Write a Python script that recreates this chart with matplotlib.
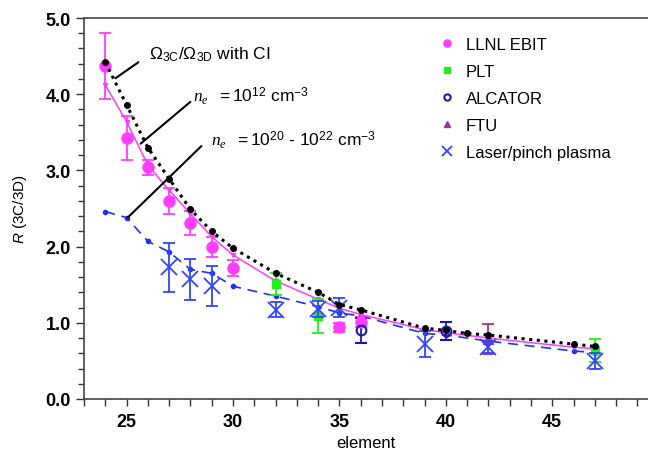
import matplotlib
matplotlib.use("Agg")
import matplotlib.pyplot as plt

plt.rcParams['font.family'] = ['Liberation Sans', 'DejaVu Sans']
plt.rcParams['mathtext.fontset'] = 'custom'
plt.rcParams['mathtext.rm'] = 'Liberation Sans'
plt.rcParams['mathtext.it'] = 'Liberation Serif:italic'
plt.rcParams['mathtext.sf'] = 'Liberation Sans:italic'

# model curves
ci_z = [24, 25, 26, 27, 28, 29, 30, 32, 34, 35, 36, 39, 40, 41, 42, 46, 47]
ci_r = [4.42, 3.86, 3.30, 2.89, 2.49, 2.20, 1.98, 1.65, 1.40, 1.24, 1.17, 0.93, 0.90, 0.86, 0.84, 0.72, 0.69]

lo_z = [24, 25, 26, 27, 28, 29, 30, 32, 34, 35, 36, 39, 40, 42, 46, 47]
lo_r = [4.12, 3.64, 3.07, 2.74, 2.43, 2.13, 1.89, 1.55, 1.31, 1.19, 1.11, 0.91, 0.87, 0.80, 0.68, 0.66]

hi_z = [24, 25, 26, 27, 28, 29, 30, 32, 34, 35, 36, 39, 40, 42, 46, 47]
hi_r = [2.46, 2.38, 2.07, 1.93, 1.70, 1.65, 1.48, 1.35, 1.21, 1.13, 1.09, 0.86, 0.84, 0.76, 0.63, 0.61]

# measurements
ebit_z = [24, 25, 26, 27, 28, 29, 30, 35, 36]
ebit_r = [4.37, 3.43, 3.04, 2.60, 2.31, 1.99, 1.72, 0.94, 1.01]
ebit_e = [0.43, 0.29, 0.10, 0.17, 0.16, 0.13, 0.10, 0.06, 0.07]

plt_z = [32, 34, 47]
plt_r = [1.51, 1.09, 0.64]
plt_e = [0.15, 0.22, 0.15]

alc_z = [36, 40]
alc_r = [0.90, 0.89]
alc_e = [0.16, 0.12]

ftu_z = [42]
ftu_r = [0.79]
ftu_e = [0.20]

las_z = [27, 28, 29, 32, 34, 35, 39, 42, 47]
las_r = [1.73, 1.57, 1.48, 1.17, 1.18, 1.20, 0.72, 0.68, 0.50]
las_e = [0.32, 0.27, 0.26, 0.10, 0.10, 0.12, 0.17, 0.08, 0.10]

MAG = '#ff3dff'
GRN = '#22ee22'
NAV = '#1c1ca0'
PUR = '#993399'
BLU = '#3344ff'

fig = plt.figure(figsize=(6.48, 4.6), dpi=100)
ax = fig.add_axes([84 / 648, 60 / 460, 564 / 648, 381 / 460])

ax.plot(hi_z, hi_r, color='#2233ee', ls=(0, (6, 4)), lw=1.2, marker='o', ms=3, zorder=2)
ax.plot(lo_z, lo_r, color=MAG, lw=1.1, marker='v', ms=3, zorder=2)
ax.plot(ci_z, ci_r, color='black', ls=(0, (1, 1.5)), lw=2.2, marker='o', ms=4, zorder=5)

ekw = dict(ls='none', capsize=4, elinewidth=1.3, capthick=1.3)
e1 = ax.errorbar(ebit_z, ebit_r, yerr=ebit_e, color=MAG, marker='o', ms=8, zorder=3, **ekw)
e2 = ax.errorbar(plt_z, plt_r, yerr=plt_e, color=GRN, marker='s', ms=6, zorder=3, **ekw)
e3 = ax.errorbar(alc_z, alc_r, yerr=alc_e, color=NAV, marker='o', ms=7, mfc='none', mew=1.5, zorder=3, **ekw)
e4 = ax.errorbar(ftu_z, ftu_r, yerr=ftu_e, color=PUR, marker='^', ms=7, zorder=3, **ekw)
e5 = ax.errorbar(las_z, las_r, yerr=las_e, color=BLU, marker='x', ms=11, mew=1.3, zorder=4, **ekw)

ax.legend([e1.lines[0], e2.lines[0], e3.lines[0], e4.lines[0], e5.lines[0]],
          ['LLNL EBIT', 'PLT', 'ALCATOR', 'FTU', 'Laser/pinch plasma'],
          loc='upper left', bbox_to_anchor=(0.6, 0.99), frameon=False,
          fontsize=12, markerscale=0.65, handlelength=1.2, handletextpad=0.5,
          labelspacing=0.72)

# curve labels
ax.annotate('', xy=(24.48, 4.21), xytext=(25.56, 4.42),
            arrowprops=dict(arrowstyle='-', color='black', lw=1.5, shrinkA=0, shrinkB=0))
ax.text(26.05, 4.53, r'$\Omega_{\mathrm{3C}}/\Omega_{\mathrm{3D}}$ with CI', fontsize=12.5, va='center')
ax.annotate('', xy=(25.66, 3.35), xytext=(28.0, 3.90),
            arrowprops=dict(arrowstyle='-', color='black', lw=1.5, shrinkA=0, shrinkB=0))
ax.text(28.1, 3.99, r'$n_e$  $= 10^{12}$ cm$^{-3}$', fontsize=12.5, va='center')
ax.annotate('', xy=(25.05, 2.38), xytext=(28.52, 3.32),
            arrowprops=dict(arrowstyle='-', color='black', lw=1.5, shrinkA=0, shrinkB=0))
ax.text(28.95, 3.41, r'$n_e$  $= 10^{20}$ - $10^{22}$ cm$^{-3}$', fontsize=12.5, va='center')

ax.set_xlim(23, 49.5)
ax.set_ylim(0, 5)
ax.set_xticks(range(25, 50, 5))
ax.set_xticks(range(23, 50), minor=True)
ax.set_yticks([0, 1, 2, 3, 4, 5])
ax.set_yticklabels(['0.0', '1.0', '2.0', '3.0', '4.0', '5.0'])
ax.set_yticks([i * 0.2 for i in range(26)], minor=True)
ax.tick_params(axis='x', which='both', direction='out', length=5, width=1, color='#333333')
ax.tick_params(axis='x', which='major', labelsize=13, pad=5)
ax.tick_params(axis='y', which='major', direction='out', length=6, width=1, color='#333333', labelsize=13)
ax.tick_params(axis='y', which='minor', direction='out', length=4, width=1, color='#333333')
for lbl in ax.get_xticklabels() + ax.get_yticklabels():
    lbl.set_fontweight('bold')

ax.spines['right'].set_visible(False)
for s in ['left', 'top', 'bottom']:
    ax.spines[s].set_color('#444444')
    ax.spines[s].set_linewidth(1.2)

ax.set_xlabel('element', fontsize=12, labelpad=4)
ax.set_ylabel(r'$\mathsf{R}$ (3C/3D)', fontsize=11, labelpad=12)

fig.savefig('out.png', dpi=100)
